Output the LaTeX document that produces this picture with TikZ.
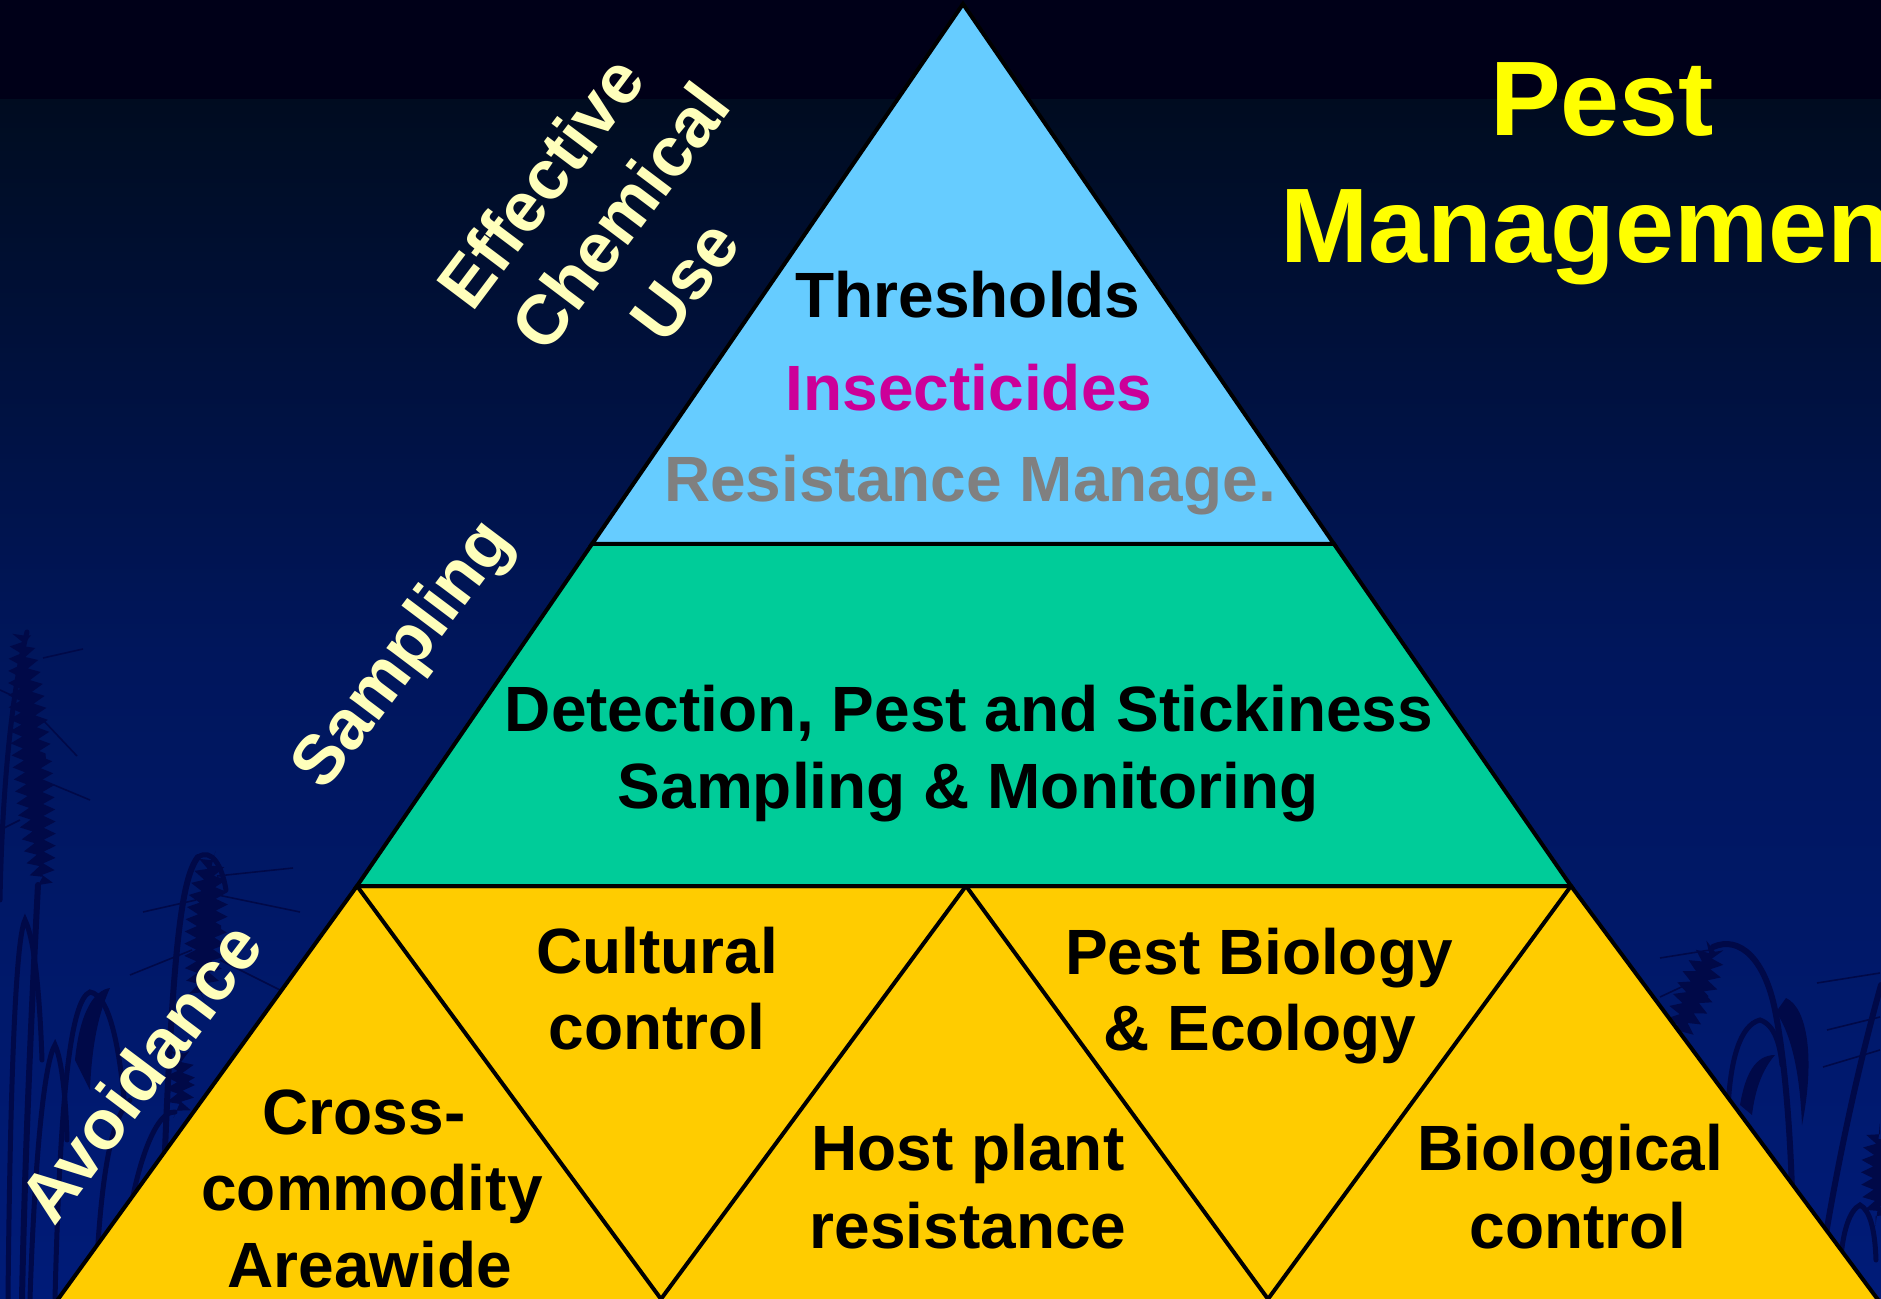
\documentclass[tikz,border=0pt]{standalone}
\usepackage{fontspec}
\setmainfont{Liberation Sans}
\usetikzlibrary{decorations.pathmorphing}
\definecolor{skytop}{HTML}{000018}
\definecolor{skyband}{HTML}{000C20}
\definecolor{skymid}{HTML}{00165C}
\definecolor{skylow}{HTML}{001B78}
\definecolor{plantcol}{HTML}{000948}
\definecolor{tiertop}{HTML}{66CCFF}
\definecolor{tiermid}{HTML}{00CC99}
\definecolor{tierlow}{HTML}{FFCC00}
\definecolor{sidecol}{HTML}{FFFFBB}
\definecolor{titlecol}{HTML}{FFFF00}
\definecolor{insectcol}{HTML}{CC0099}
\definecolor{resistcol}{HTML}{808080}

\begin{document}
\begin{tikzpicture}[x=0.5pt,y=-0.5pt,
  tier/.style={draw=black,line width=2pt,line join=miter},
  divider/.style={draw=black,line width=2pt},
  bodytext/.style={font=\bfseries\fontsize{32}{38}\selectfont,anchor=base,inner sep=0pt},
  sidetext/.style={font=\bfseries\fontsize{35}{42}\selectfont,text=sidecol,rotate=53,inner sep=0pt},
  titletext/.style={font=\bfseries\fontsize{53}{63}\selectfont,text=titlecol,anchor=base,inner sep=0pt},
  stem/.style={draw=plantcol,line width=3pt,line cap=round},
  blade/.style={draw=plantcol,line width=2.5pt,line cap=round},
  awn/.style={draw=plantcol,line width=0.8pt},
  ear/.style={fill=plantcol,decorate,decoration={zigzag,segment length=6pt,amplitude=3pt}},
]
\useasboundingbox (0,0) rectangle (1881,1299);
\clip (0,0) rectangle (1881,1299);

% night sky
\fill[skytop] (0,0) rectangle (1881,100);
\shade[top color=skyband,bottom color=skymid] (0,100) rectangle (1881,651);
\shade[top color=skymid,bottom color=skylow] (0,650) rectangle (1881,1300);

% wheat silhouettes, left
\fill[ear,rotate around={5:(32,760)}] (32,760) ellipse [x radius=14,y radius=128];
\draw[stem] (38,885) .. controls (32,1000) and (25,1150) .. (22,1299);
\draw[blade] (27,632) .. controls (10,700) and (2,800) .. (0,900);
\draw[blade] (8,1299) .. controls (10,1100) and (15,940) .. (25,920) .. controls (35,940) and (40,1000) .. (42,1060);
\draw[blade] (55,1299) .. controls (60,1100) and (70,1000) .. (90,992) .. controls (110,995) and (120,1050) .. (125,1110);
\draw[blade] (30,1299) .. controls (35,1150) and (45,1060) .. (55,1045) .. controls (62,1060) and (66,1100) .. (67,1140);
\fill[plantcol] (75,1060) .. controls (80,1010) and (95,990) .. (110,988) .. controls (100,1010) and (92,1040) .. (90,1090) -- cycle;
\draw[awn] (43,658) -- (83,649);
\draw[awn] (43,720) -- (77,756);
\draw[awn] (42,780) -- (90,800);
\draw[awn] (22,700) -- (0,690);
\draw[awn] (20,820) -- (0,830);
\fill[ear,rotate around={-4:(206,928)}] (206,928) ellipse [x radius=15,y radius=72];
\draw[stem] (198,857) .. controls (180,880) and (170,960) .. (160,1299);
\draw[blade] (198,857) .. controls (212,848) and (222,866) .. (226,890);
\draw[awn] (217,876) -- (293,868);
\draw[awn] (213,894) -- (300,912);
\draw[awn] (196,900) -- (143,912);
\draw[awn] (220,960) -- (280,990);
\draw[awn] (192,950) -- (130,975);
\fill[ear] (180,1082) ellipse [x radius=9,y radius=32];
\draw[blade] (120,1299) .. controls (125,1200) and (150,1110) .. (175,1112);
\draw[blade] (95,1299) .. controls (100,1180) and (110,1120) .. (130,1100);

% wheat silhouettes, right
\fill[ear,rotate around={-22:(1695,992)}] (1695,992) ellipse [x radius=14,y radius=50];
\draw[stem] (1713,947) .. controls (1740,935) and (1765,960) .. (1775,1010) .. controls (1785,1060) and (1790,1130) .. (1792,1190);
\fill[plantcol] (1786,998) .. controls (1808,1008) and (1815,1060) .. (1802,1125) .. controls (1800,1075) and (1792,1035) .. (1776,1012) -- cycle;
\draw[blade] (1728,1110) .. controls (1730,1060) and (1740,1025) .. (1760,1020) .. controls (1775,1025) and (1780,1045) .. (1782,1065);
\fill[plantcol] (1740,1105) .. controls (1745,1075) and (1755,1055) .. (1775,1055) .. controls (1762,1070) and (1755,1090) .. (1752,1115) -- cycle;
\draw[stem] (1881,985) .. controls (1860,1060) and (1840,1150) .. (1825,1240);
\fill[ear] (1878,1175) ellipse [x radius=11,y radius=45];
\draw[blade] (1840,1270) .. controls (1842,1230) and (1850,1210) .. (1860,1205) .. controls (1870,1210) and (1875,1230) .. (1876,1260);
\draw[awn] (1660,958) -- (1710,950);
\draw[awn] (1660,997) -- (1690,983);
\draw[awn] (1817,983) -- (1880,973);
\draw[awn] (1827,1030) -- (1880,1017);
\draw[awn] (1823,1067) -- (1880,1050);

% pyramid corners
\coordinate (apex) at (963,4);
\coordinate (T1L) at (592,544);
\coordinate (T1R) at (1334,544);
\coordinate (T2L) at (357,886);
\coordinate (T2R) at (1571,886);
\coordinate (BM) at (966,886);
\coordinate (V1) at (661,1299);
\coordinate (V2) at (1268,1299);
\coordinate (BL) at (43,1320);
\coordinate (BR) at (1893,1320);

% base tier with its inverted triangles
\fill[tierlow] (T2L) -- (T2R) -- (BR) -- (BL) -- cycle;
\draw[tier] (BL) -- (T2L) -- (T2R) -- (BR);
\draw[divider] (T2L) -- (V1) -- (BM) -- (V2) -- (T2R);
% middle and top tiers
\filldraw[tier,fill=tiermid] (T1L) -- (T1R) -- (T2R) -- (T2L) -- cycle;
\filldraw[tier,fill=tiertop] (apex) -- (T1R) -- (T1L) -- cycle;

% top tier text
\node[bodytext] (thresh) at (968,318) {Thresholds};
\node[bodytext,text=insectcol] (insect) at (969,411) {Insecticides};
\node[bodytext,text=resistcol] (resist) at (970,502) {Resistance Manage.};

% middle tier text
\node[bodytext] (detect) at (969,732) {Detection, Pest and Stickiness};
\node[bodytext] (monitor) at (968,808) {Sampling \& Monitoring};

% base tier text
\node[bodytext] (cross1) at (364,1134) {Cross-};
\node[bodytext] (cross2) at (372,1210) {commodity};
\node[bodytext] (cross3) at (370,1287) {Areawide};
\node[bodytext] (cult1) at (657,973) {Cultural};
\node[bodytext] (cult2) at (657,1049) {control};
\node[bodytext] (host1) at (968,1170) {Host plant};
\node[bodytext] (host2) at (968,1248) {resistance};
\node[bodytext] (eco1) at (1259,974) {Pest Biology};
\node[bodytext] (eco2) at (1260,1050) {\& Ecology};
\node[bodytext] (bio1) at (1570,1170) {Biological};
\node[bodytext] (bio2) at (1578,1248) {control};

% slanted labels along the left flank
\node[sidetext] (eff) at (540,182) {Effective};
\node[sidetext] (chem) at (620,216) {Chemical};
\node[sidetext] (use) at (685,281) {Use};
\node[sidetext] (samp) at (405,656) {Sampling};
\node[sidetext] (avoid) at (140,1072) {Avoidance};

% title
\node[titletext] (title1) at (1602,136) {Pest};
\node[titletext] (title2) at (1604,263) {Management};
\end{tikzpicture}
\end{document}
